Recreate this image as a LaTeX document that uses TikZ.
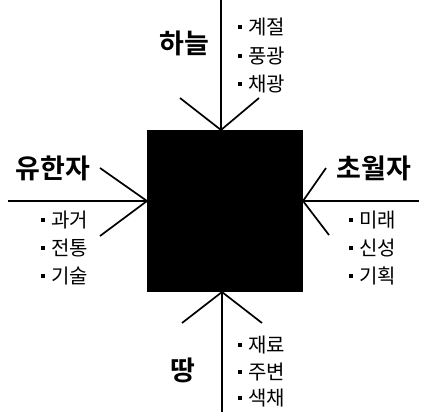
\documentclass[tikz,border=0pt]{standalone}
\usepackage{fontspec}
\setmainfont{Noto Sans CJK KR}[BoldFont={Noto Sans CJK KR Bold}]
\usetikzlibrary{positioning}
\newcommand{\sqbullet}{\rule[0.55ex]{4pt}{4pt}\hspace{6pt}}

\begin{document}
\begin{tikzpicture}[x=1pt, y=-1pt,
    core/.style={rectangle, fill=black, minimum width=156pt, minimum height=162pt, inner sep=0pt},
    heading/.style={font=\fontsize{27}{30}\selectfont\bfseries, inner sep=0pt},
    item/.style={font=\fontsize{20}{22}\selectfont, inner sep=0pt, anchor=west},
    axis/.style={line width=1.2pt},
    ray/.style={line width=1.7pt}
]
    \useasboundingbox (0,0) rectangle (427,412);

    \node[core] (square) at (225, 211) {};

    % axis ends and points where the rays meet the square
    \coordinate (topend) at (221, 0);
    \coordinate (bottomend) at (222, 412);
    \coordinate (leftend) at (8, 201);
    \coordinate (rightend) at (419, 201);
    \coordinate (topmeet) at (221, 130);
    \coordinate (bottommeet) at (222, 292);
    \coordinate (leftmeet) at (147, 201);
    \coordinate (rightmeet) at (303, 201);

    \coordinate (topA) at (180, 98);
    \coordinate (topB) at (259, 98);
    \coordinate (bottomA) at (182, 323);
    \coordinate (bottomB) at (262, 323);
    \coordinate (leftA) at (100, 168);
    \coordinate (leftB) at (100, 236);
    \coordinate (rightA) at (326, 168);
    \coordinate (rightB) at (329, 235);

    \draw[axis] (topend) -- (topmeet);
    \draw[axis] (bottommeet) -- (bottomend);
    \draw[axis] (leftend) -- (leftmeet);
    \draw[axis] (rightmeet) -- (rightend);

    \draw[ray] (topA) -- (topmeet) -- (topB);
    \draw[ray] (bottomA) -- (bottommeet) -- (bottomB);
    \draw[ray] (leftA) -- (leftmeet) -- (leftB);
    \draw[ray] (rightA) -- (rightmeet) -- (rightB);

    % headings
    \node[heading] (sky) at (184, 43) {하늘};
    \node[heading] (finite) at (53, 168) {유한자};
    \node[heading] (transcend) at (374, 168) {초월자};
    \node[heading] (earth) at (183, 370) {땅};

    % item lists
    \node[item] (season) at (238, 27) {\sqbullet 계절};
    \node[item] (scenery) at (238, 56) {\sqbullet 풍광};
    \node[item] (daylight) at (238, 84) {\sqbullet 채광};

    \node[item] (past) at (41, 220) {\sqbullet 과거};
    \node[item] (tradition) at (41, 248) {\sqbullet 전통};
    \node[item] (skill) at (41, 276) {\sqbullet 기술};

    \node[item] (future) at (349, 220) {\sqbullet 미래};
    \node[item] (divine) at (349, 248) {\sqbullet 신성};
    \node[item] (plan) at (349, 276) {\sqbullet 기획};

    \node[item] (material) at (238, 345) {\sqbullet 재료};
    \node[item] (surround) at (238, 372) {\sqbullet 주변};
    \node[item] (colour) at (238, 398) {\sqbullet 색채};
\end{tikzpicture}
\end{document}
